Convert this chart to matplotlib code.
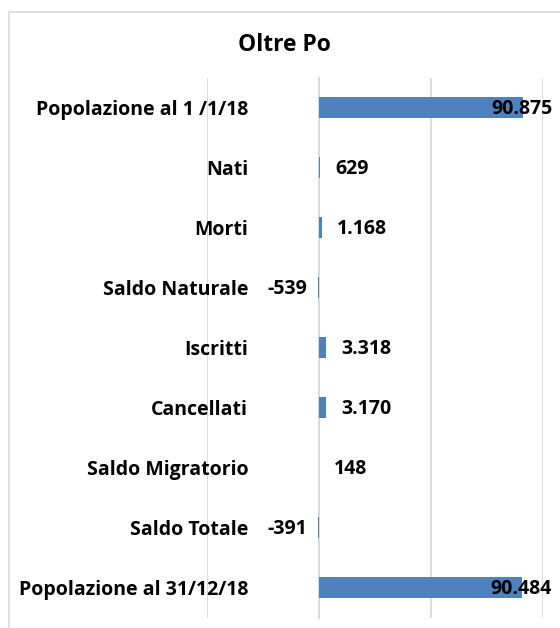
import matplotlib.pyplot as plt
from matplotlib.patches import Rectangle

# bilancio demografico 2018
categorie = [
    "Popolazione al 1 /1/18",
    "Nati",
    "Morti",
    "Saldo Naturale",
    "Iscritti",
    "Cancellati",
    "Saldo Migratorio",
    "Saldo Totale",
    "Popolazione al 31/12/18",
]
valori = [90875, 629, 1168, -539, 3318, 3170, 148, -391, 90484]
etichette = ["90.875", "629", "1.168", "-539", "3.318", "3.170", "148", "-391", "90.484"]

plt.rcParams['font.family'] = ['Open Sans', 'DejaVu Sans']
plt.rcParams['font.weight'] = 'bold'
FS = 14

fig = plt.figure(figsize=(5.6, 6.28), dpi=100)
ax = fig.add_axes([207 / 560, 1 - 617.5 / 628, 336 / 560, 540 / 628])

# cornice del grafico
fig.patches.append(Rectangle((9 / 560, -0.1), 1.0, 1 - 11.5 / 628 + 0.1,
                             transform=fig.transFigure, fill=False,
                             edgecolor='#d9d9d9', linewidth=1.2))

pos = list(range(len(categorie)))
ax.barh(pos, valori, height=0.35, color='#4f81bd', zorder=3)

ax.set_xlim(-50000, 100000)
ax.set_ylim(len(categorie) - 0.5, -0.5)
ax.set_xticks([-50000, 0, 50000, 100000])
ax.xaxis.grid(True, color='#d9d9d9', linewidth=1.3, zorder=0)
ax.tick_params(axis='x', length=0, labelbottom=False)

# asse verticale sullo zero, etichette a sinistra
for s in ['top', 'right', 'bottom']:
    ax.spines[s].set_visible(False)
ax.spines['left'].set_position(('data', 0))
ax.spines['left'].set_color('#d9d9d9')
ax.spines['left'].set_linewidth(1.3)
ax.set_yticks(pos)
ax.set_yticklabels(categorie, fontsize=FS, fontweight='bold')
ax.tick_params(axis='y', length=0, pad=51)
for t in ax.get_yticklabels():
    t.set_zorder(5)

for i, (v, lab) in enumerate(zip(valori, etichette)):
    if v > 50000:
        ax.annotate(lab, (v, i), xytext=(30, -2), textcoords='offset pixels',
                    ha='right', va='center', fontsize=FS, fontweight='bold', zorder=6)
    elif v >= 0:
        ax.annotate(lab, (v, i), xytext=(15, -2), textcoords='offset pixels',
                    ha='left', va='center', fontsize=FS, fontweight='bold', zorder=6)
    else:
        ax.annotate(lab, (v, i), xytext=(-11, -2), textcoords='offset pixels',
                    ha='right', va='center', fontsize=FS, fontweight='bold', zorder=6)

fig.text(284 / 560, 1 - 45 / 628, "Oltre Po", ha='center', va='center',
         fontsize=16.5, fontweight='bold')

fig.savefig('out.png', dpi=100)
